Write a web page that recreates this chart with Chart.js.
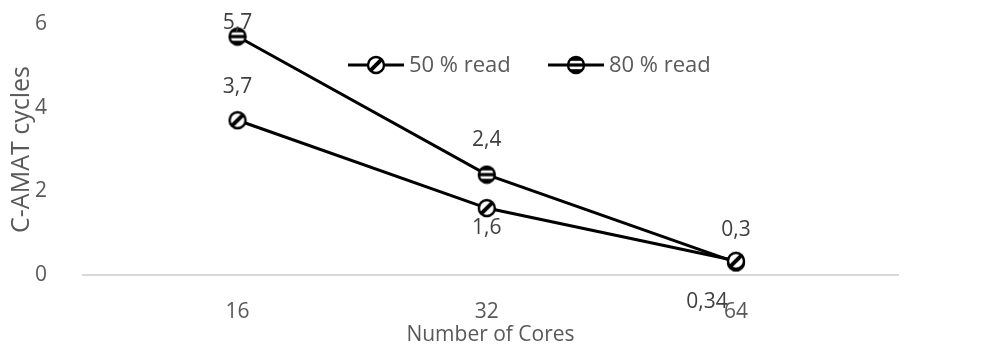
<!DOCTYPE html>
<html>
<head>
<meta charset="utf-8">
<script src="https://cdn.jsdelivr.net/npm/chart.js@4.4.1/dist/chart.umd.min.js"></script>
<style>
  html, body { margin:0; padding:0; background:#fff; }
  #wrap { width:992px; height:349px; position:relative; }
</style>
</head>
<body>
<div id="wrap"><canvas id="chart" width="992" height="349"></canvas></div>
<script>
const cores     = ["16", "32", "64"];
const read50    = [3.7, 1.6, 0.34];
const read80    = [5.7, 2.4, 0.3];
const yTicks    = [0, 2, 4, 6];
const seriesNames = ["50 % read", "80 % read"];

const txtCol  = "#595959";
const font    = "'Open Sans', sans-serif";
const fs      = 21;

/* marker images */
function marker(kind){
  const s = 20, c = document.createElement("canvas");
  c.width = s; c.height = s;
  const g = c.getContext("2d"), r = 8, m = s/2;
  g.save();
  g.beginPath(); g.arc(m, m, r, 0, Math.PI*2); g.clip();
  if(kind === "diag"){
    g.fillStyle = "#fff"; g.fillRect(0, 0, s, s);
    g.fillStyle = "#000";
    g.translate(m, m); g.rotate(-Math.PI/4);
    g.fillRect(-r, -2, 2*r, 4);
  } else {
    g.fillStyle = "#000"; g.fillRect(0, 0, s, s);
    g.fillStyle = "#fff";
    g.fillRect(0, m-4.2, s, 2.6);
    g.fillRect(0, m+1.6, s, 2.6);
  }
  g.restore();
  g.beginPath(); g.arc(m, m, r, 0, Math.PI*2);
  g.lineWidth = 2.4; g.strokeStyle = "#000"; g.stroke();
  return c;
}
const mk50 = marker("diag"), mk80 = marker("horiz");

/* label offsets (px) per series / point */
const labelShift = [
  [[0,-33],[0,20],[-29,41]],
  [[0,-14],[0,-35],[0,-32]]
];

const pointLabels = {
  id:"pointLabels",
  afterDatasetsDraw(chart){
    const g = chart.ctx;
    g.save();
    g.font = fs + "px " + font;
    g.fillStyle = "#404040";
    g.textAlign = "center"; g.textBaseline = "middle";
    chart.data.datasets.forEach((ds, i) => {
      chart.getDatasetMeta(i).data.forEach((pt, j) => {
        const [dx, dy] = labelShift[i][j];
        g.fillText(String(ds.data[j].y).replace(".", ","), pt.x + dx, pt.y + dy);
      });
    });
    g.restore();
  }
};

const legendBox = {
  id:"legendBox",
  afterDraw(chart){
    const g = chart.ctx, y = 65;
    const items = [[348, mk50], [548, mk80]];
    g.save();
    g.font = "22px " + font;
    g.fillStyle = txtCol;
    g.textBaseline = "middle";
    items.forEach(([x, img], i) => {
      g.beginPath(); g.moveTo(x, y); g.lineTo(x+56, y);
      g.lineWidth = 3; g.strokeStyle = "#000"; g.stroke();
      g.drawImage(img, x + 28 - 10, y - 10);
      g.fillText(seriesNames[i], x + 61, y + 1);
    });
    g.restore();
  }
};

const pts = arr => arr.map((v, i) => ({x:i, y:v}));

new Chart(document.getElementById("chart"), {
  type:"line",
  data:{
    datasets:[
      {label:seriesNames[0], data:pts(read50), borderColor:"#000", borderWidth:3,
       pointStyle:mk50, pointRadius:10, tension:0},
      {label:seriesNames[1], data:pts(read80), borderColor:"#000", borderWidth:3,
       pointStyle:mk80, pointRadius:10, tension:0}
    ]
  },
  options:{
    responsive:false, animation:false,
    layout:{autoPadding:false, padding:{top:24, right:94, left:0, bottom:0}},
    plugins:{legend:{display:false}, tooltip:{enabled:false}},
    scales:{
      x:{
        type:"linear", min:-0.62, max:2.65,
        afterBuildTicks(s){ s.ticks = cores.map((c, i) => ({value:i})); },
        grid:{display:false, drawTicks:false},
        border:{color:"#d9d9d9", width:2},
        ticks:{color:txtCol, font:{family:font, size:fs}, padding:24,
               callback:v => cores[v]},
        title:{display:true, text:"Number of Cores", color:txtCol,
               font:{family:font, size:fs}, padding:{top:0, bottom:1}},
        afterFit(s){ s.height = 74; s.paddingLeft = 0; s.paddingRight = 0; }
      },
      y:{
        min:0, max:6,
        afterBuildTicks(s){ s.ticks = yTicks.map(v => ({value:v})); },
        grid:{display:false, drawTicks:false},
        border:{display:false},
        ticks:{color:txtCol, font:{family:font, size:fs}, padding:36},
        title:{display:true, text:"C-AMAT cycles", color:txtCol,
               font:{family:font, size:25}, padding:{top:7, bottom:0}},
        afterFit(s){ s.width = 83; s.paddingTop = 0; s.paddingBottom = 0; }
      }
    }
  },
  plugins:[pointLabels, legendBox]
});
</script>
</body>
</html>
